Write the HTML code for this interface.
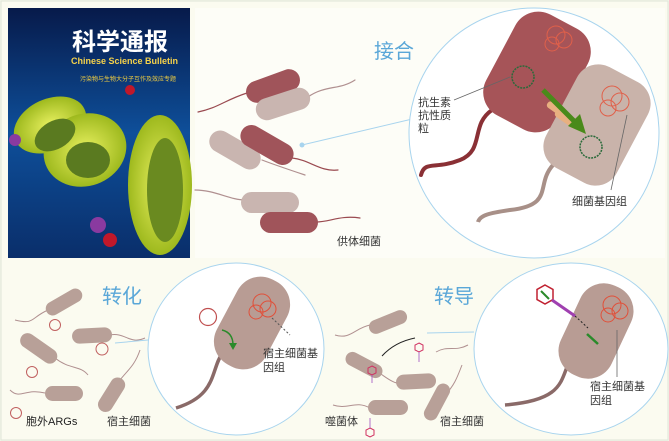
<!DOCTYPE html>
<html><head><meta charset="utf-8"><style>
html,body{margin:0;padding:0;background:#fff;}
svg{display:block;}
text{font-family:"Liberation Sans","Noto Sans CJK SC",sans-serif;}
</style></head><body>
<svg width="669" height="441" viewBox="0 0 669 441" xmlns="http://www.w3.org/2000/svg">
<defs>
<linearGradient id="cov" x1="0" y1="0" x2="0" y2="1">
<stop offset="0" stop-color="#071a4a"/><stop offset="0.5" stop-color="#0e4f9a"/><stop offset="1" stop-color="#0a2e6a"/>
</linearGradient>
<radialGradient id="yel" cx="0.5" cy="0.5" r="0.6"><stop offset="0" stop-color="#e8f060"/><stop offset="1" stop-color="#8fae10"/></radialGradient>
</defs>
<rect x="0" y="0" width="669" height="441" fill="#f6f7ea"/>
<rect x="1" y="1" width="667" height="439" fill="#fbfbf0" stroke="#dfe6d8"/>
<rect x="195" y="8" width="470" height="250" fill="#fdfdf7"/>
<!-- cover -->
<rect x="8" y="8" width="182" height="250" fill="url(#cov)"/>
<text x="72" y="50" font-size="24" fill="#fff" font-weight="bold" font-family="Liberation Serif,'Noto Serif CJK SC',serif">科学通报</text>
<text x="71" y="64" font-size="9" fill="#f6d24a" font-weight="bold">Chinese Science Bulletin</text>
<text x="80" y="81" font-size="6" fill="#f4d040">污染物与生物大分子互作及效应专题</text>
<ellipse cx="50" cy="125" rx="38" ry="26" fill="url(#yel)" transform="rotate(-25 50 125)"/>
<ellipse cx="85" cy="150" rx="42" ry="36" fill="url(#yel)" transform="rotate(-20 85 150)"/>
<ellipse cx="160" cy="185" rx="32" ry="70" fill="url(#yel)"/>
<ellipse cx="55" cy="135" rx="22" ry="14" fill="#5a7a20" transform="rotate(-30 55 135)"/>
<ellipse cx="88" cy="160" rx="22" ry="18" fill="#5a7a20"/>
<ellipse cx="165" cy="190" rx="18" ry="52" fill="#6a8a20"/>
<circle cx="130" cy="90" r="5" fill="#c0182a"/><circle cx="110" cy="240" r="7" fill="#c0182a"/>
<circle cx="15" cy="140" r="6" fill="#8a3aa0"/><circle cx="98" cy="225" r="8" fill="#8a3aa0"/>
<!-- donor bacteria -->
<g stroke-linecap="round" fill="none" stroke-width="1.2">
<path d="M247 93 C225 100 218 108 198 112" stroke="#9a4a50"/>
<path d="M308 97 C325 85 340 90 355 80" stroke="#b09090"/>
<path d="M262 160 C275 165 290 170 305 175" stroke="#b09090"/>
<path d="M292 158 C310 160 320 172 338 170" stroke="#9a4a50"/>
<path d="M245 200 C230 200 215 190 195 190" stroke="#b09090"/>
<path d="M316 222 C330 222 340 215 360 218" stroke="#9a4a50"/>
</g>
<rect x="245" y="75" width="56" height="22" rx="11" fill="#a0545a" transform="rotate(-20 273 86)"/>
<rect x="255" y="93" width="56" height="22" rx="11" fill="#c9b5b0" transform="rotate(-18 283 104)"/>
<rect x="207" y="139" width="56" height="22" rx="11" fill="#c9b5b0" transform="rotate(30 235 150)"/>
<rect x="238" y="134" width="58" height="22" rx="11" fill="#a0545a" transform="rotate(30 267 145)"/>
<rect x="241" y="192" width="58" height="21" rx="10.5" fill="#c9b5b0"/>
<rect x="260" y="212" width="58" height="21" rx="10.5" fill="#a0545a"/>
<text x="337" y="245" font-size="11" fill="#333">供体细菌</text>
<line x1="302" y1="145" x2="442" y2="112" stroke="#a8d4ee" stroke-width="1"/>
<circle cx="302" cy="145" r="2.5" fill="#a8d4ee"/>
<text x="374" y="58" font-size="20" fill="#5aa7d8">接合</text>
<!-- conjugation circle -->
<ellipse cx="534" cy="133" rx="125" ry="125" fill="#fff" stroke="#a8d4ee" stroke-width="1"/>
<path d="M492 110 C470 125 485 150 460 160 C435 170 425 160 421 175" stroke="#8a3035" stroke-width="4" fill="none" stroke-linecap="round"/>
<path d="M553 165 C535 185 555 205 510 210 C490 213 480 215 478 222" stroke="#a89088" stroke-width="4" fill="none"/>
<rect x="496" y="15" width="82" height="114" rx="26" fill="#a65458" transform="rotate(28 537 72)"/>
<rect x="557" y="68" width="80" height="114" rx="24" fill="#c9b3aa" transform="rotate(28 597 125)"/>
<circle cx="523" cy="77" r="11" fill="none" stroke="#2a6a3a" stroke-width="1.5" stroke-dasharray="2 1"/>
<circle cx="591" cy="147" r="11" fill="none" stroke="#2a6a3a" stroke-width="1.5" stroke-dasharray="2 1"/>
<g fill="none" stroke="#e0604a" stroke-width="1"><circle cx="556" cy="35" r="9"/><circle cx="564" cy="40" r="8"/><circle cx="552" cy="44" r="7"/>
<circle cx="612" cy="96" r="10"/><circle cx="620" cy="102" r="9"/><circle cx="608" cy="108" r="8"/></g>
<rect x="555" y="98" width="7" height="26" rx="3" fill="#e8b080" transform="rotate(-55 558 111)"/>
<rect x="563" y="107" width="7" height="26" rx="3" fill="#e8b080" transform="rotate(-55 566 120)"/>
<path d="M543 90 L578 125" stroke="#4a8a1a" stroke-width="5"/>
<polygon points="586,134 568,126 580,114" fill="#4a8a1a"/>
<line x1="454" y1="100" x2="510" y2="77" stroke="#666" stroke-width="0.8"/>
<text x="418" y="106" font-size="11" fill="#333">抗生素</text>
<text x="418" y="119" font-size="11" fill="#333">抗性质</text>
<text x="418" y="132" font-size="11" fill="#333">粒</text>
<line x1="627" y1="115" x2="611" y2="190" stroke="#666" stroke-width="0.8"/>
<text x="572" y="205" font-size="11" fill="#333">细菌基因组</text>
<!-- bottom left: transformation -->
<text x="102" y="303" font-size="20" fill="#5aa7d8">转化</text>
<g fill="none" stroke="#b09090" stroke-width="1"><path d="M48 310 C30 318 35 325 15 320"/><path d="M110 335 C125 332 130 345 145 338"/><path d="M55 358 C70 370 80 365 88 375"/><path d="M45 393 C25 388 20 400 10 390"/><path d="M120 380 C128 370 135 365 140 350"/></g>
<circle cx="55" cy="325" r="5.5" fill="none" stroke="#c06060"/><circle cx="102" cy="349" r="6" fill="none" stroke="#c06060"/>
<circle cx="32" cy="372" r="5.5" fill="none" stroke="#c06060"/><circle cx="16" cy="413" r="5.5" fill="none" stroke="#c06060"/>
<g fill="#b8a098">
<rect x="44" y="295" width="40" height="14" rx="7" transform="rotate(-30 64 302)"/>
<rect x="72" y="328" width="40" height="15" rx="7.5" transform="rotate(-3 92 335)"/>
<rect x="18" y="341" width="42" height="15" rx="7.5" transform="rotate(35 39 348)"/>
<rect x="45" y="386" width="38" height="15" rx="7.5"/>
<rect x="93" y="387" width="38" height="15" rx="7.5" transform="rotate(-58 112 395)"/>
</g>
<text x="26" y="425" font-size="11" fill="#222">胞外ARGs</text>
<text x="107" y="425" font-size="11" fill="#333">宿主细菌</text>
<line x1="115" y1="343" x2="148" y2="340" stroke="#a8d4ee"/>
<ellipse cx="236" cy="349" rx="88" ry="86" fill="#fff" stroke="#a8d4ee"/>
<path d="M223 352 C210 370 218 395 176 408" stroke="#8a6a68" stroke-width="3.5" fill="none"/>
<rect x="224" y="275" width="56" height="96" rx="26" fill="#b89c94" transform="rotate(28 252 323)"/>
<g fill="none" stroke="#e0503a" stroke-width="1"><circle cx="262" cy="303" r="9"/><circle cx="268" cy="309" r="8"/><circle cx="256" cy="312" r="7"/></g>
<circle cx="208" cy="317" r="8.5" fill="none" stroke="#c05050" stroke-width="1.2"/>
<path d="M222 330 C230 332 233 338 233 345" stroke="#2a8a2a" stroke-width="1.5" fill="none"/>
<polygon points="229,343 237,343 233,350" fill="#2a8a2a"/>
<line x1="272" y1="318" x2="290" y2="335" stroke="#555" stroke-dasharray="2 2"/>
<text x="263" y="357" font-size="11" fill="#333">宿主细菌基</text>
<text x="263" y="371" font-size="11" fill="#333">因组</text>
<!-- bottom right: transduction -->
<text x="434" y="303" font-size="20" fill="#5aa7d8">转导</text>
<g fill="none" stroke="#b09090" stroke-width="1"><path d="M370 325 C355 328 350 340 335 335"/><path d="M378 372 C390 380 395 386 410 383"/><path d="M436 352 C448 345 455 352 468 345"/><path d="M370 408 C355 400 348 410 333 405"/><path d="M445 395 C455 385 458 375 462 365"/></g>
<g fill="#b8a098">
<rect x="368" y="315" width="40" height="14" rx="7" transform="rotate(-22 388 322)"/>
<rect x="344" y="358" width="40" height="14" rx="7" transform="rotate(28 364 365)"/>
<rect x="396" y="374" width="40" height="15" rx="7.5" transform="rotate(-3 416 381)"/>
<rect x="368" y="400" width="40" height="15" rx="7.5"/>
<rect x="417" y="395" width="40" height="14" rx="7" transform="rotate(-62 437 402)"/>
</g>
<path d="M382 356 C392 345 405 340 415 338" stroke="#222" fill="none"/>
<g stroke="#d03060" fill="none"><polygon points="419,343 423,345 423,350 419,352 415,350 415,345"/><polygon points="372,366 376,368 376,373 372,375 368,373 368,368"/><polygon points="370,428 374,430 374,435 370,437 366,435 366,430"/></g>
<g stroke="#a050c0" stroke-width="0.8"><line x1="419" y1="352" x2="419" y2="362"/><line x1="372" y1="375" x2="372" y2="383"/><line x1="370" y1="418" x2="370" y2="428"/></g>
<text x="325" y="425" font-size="11" fill="#333">噬菌体</text>
<text x="440" y="425" font-size="11" fill="#333">宿主细菌</text>
<line x1="427" y1="333" x2="474" y2="332" stroke="#a8d4ee"/>
<ellipse cx="571" cy="349" rx="97" ry="86" fill="#fff" stroke="#a8d4ee"/>
<path d="M570 360 C560 380 565 400 505 405" stroke="#8a6a68" stroke-width="3.5" fill="none"/>
<rect x="568" y="282" width="56" height="98" rx="26" fill="#b89c94" transform="rotate(25 596 331)"/>
<g fill="none" stroke="#e0503a" stroke-width="1"><circle cx="612" cy="305" r="9"/><circle cx="620" cy="311" r="8"/><circle cx="608" cy="315" r="7"/></g>
<polygon points="545,285 553,289.5 553,299.5 545,304 537,299.5 537,289.5" fill="#fff" stroke="#c02030" stroke-width="1.5"/>
<path d="M541 291 L549 299" stroke="#2a8a2a" stroke-width="2"/>
<path d="M552 300 L575 316" stroke="#a040b0" stroke-width="3"/>
<path d="M575 316 L588 328" stroke="#222" stroke-dasharray="2 2"/>
<path d="M587 334 L598 344" stroke="#2a8a2a" stroke-width="2.5"/>
<line x1="617" y1="330" x2="617" y2="377" stroke="#666" stroke-width="0.8"/>
<text x="590" y="390" font-size="11" fill="#333">宿主细菌基</text>
<text x="590" y="404" font-size="11" fill="#333">因组</text>
</svg>
</body></html>
